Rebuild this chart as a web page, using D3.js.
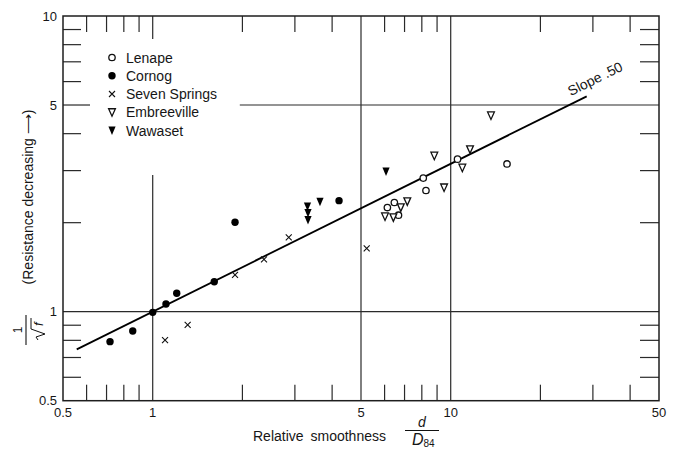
<!DOCTYPE html>
<html><head><meta charset="utf-8">
<script src="https://cdn.jsdelivr.net/npm/d3@7"></script>
<style>
html,body{margin:0;padding:0;background:#fff;}
svg{display:block;font-family:"Liberation Sans",Arial,Helvetica,sans-serif;}
</style></head>
<body>
<svg id="c" width="677" height="451"></svg>
<script>
// ---- data ----
const lenape = [[6.13,2.25],[6.47,2.34],[6.68,2.12],[8.09,2.83],[8.26,2.57],[10.54,3.28],[15.45,3.16]];
const cornog = [[0.719,0.792],[0.857,0.860],[1.0,0.995],[1.108,1.062],[1.204,1.154],[1.609,1.263],[1.889,2.006],[4.22,2.374]];
const sevenSprings = [[1.10,0.802],[1.31,0.902],[1.889,1.331],[2.363,1.504],[2.861,1.785],[5.225,1.638]];
const embreeville = [[6.02,2.10],[6.42,2.085],[6.80,2.254],[7.15,2.362],[8.81,3.37],[9.50,2.63],[10.94,3.07],[11.61,3.54],[13.65,4.61]];
const wawaset = [[3.307,2.27],[3.32,2.157],[3.32,2.042],[3.642,2.355],[6.067,2.98]];
const slopeLine = [[0.556,0.746],[28.6,5.35]];
const xTickLabels = [0.5,1,5,10,50];
const yTickLabels = [0.5,1,5,10];
const xMinor = [0.6,0.7,0.8,0.9,2,3,4,6,7,8,9,20,30,40];
const yMinor = [0.6,0.7,0.8,0.9,2,3,4,6,7,8,9];
const legendNames = ["Lenape","Cornog","Seven Springs","Embreeville","Wawaset"];

// ---- scales ----
const x = d3.scaleLog().domain([0.5,50]).range([63,659]);
const y = d3.scaleLog().domain([0.5,10]).range([400.7,16]);
const svg = d3.select("#c");
const ink = "#161616";

// gridlines
const g = svg.append("g").attr("stroke","#2a2a2a").attr("stroke-width",1.2);
g.append("line").attr("x1",x(1)).attr("x2",x(1)).attr("y1",y(2.9)).attr("y2",y(0.5));
[5,10].forEach(v=>g.append("line").attr("x1",x(v)).attr("x2",x(v)).attr("y1",y(10)).attr("y2",y(0.5)));
g.append("line").attr("x1",x(0.5)).attr("x2",x(50)).attr("y1",y(1)).attr("y2",y(1));
g.append("line").attr("x1",x(1.96)).attr("x2",x(50)).attr("y1",y(5)).attr("y2",y(5));
g.append("line").attr("x1",x(0.5)).attr("x2",x(0.5)+27).attr("y1",y(5)).attr("y2",y(5));
g.append("line").attr("x1",x(1)).attr("x2",x(1)).attr("y1",y(10)).attr("y2",y(10)+23);

// minor ticks (inward on all sides)
const t = svg.append("g").attr("stroke","#2a2a2a").attr("stroke-width",1.2);
xMinor.forEach(v=>{
  t.append("line").attr("x1",x(v)).attr("x2",x(v)).attr("y1",y(0.5)).attr("y2",y(0.5)-16);
  t.append("line").attr("x1",x(v)).attr("x2",x(v)).attr("y1",y(10)).attr("y2",y(10)+16);
});
yMinor.forEach(v=>{
  t.append("line").attr("x1",x(0.5)).attr("x2",x(0.5)+18).attr("y1",y(v)).attr("y2",y(v));
  t.append("line").attr("x1",x(50)).attr("x2",x(50)-19).attr("y1",y(v)).attr("y2",y(v));
});

// frame
svg.append("rect").attr("x",x(0.5)).attr("y",y(10)).attr("width",x(50)-x(0.5)).attr("height",y(0.5)-y(10))
  .attr("fill","none").attr("stroke","#1e1e1e").attr("stroke-width",1.5);

// tick labels
svg.append("g").selectAll("text").data(xTickLabels).join("text")
  .attr("x",d=>x(d)).attr("y",417).attr("text-anchor","middle").attr("font-size",13).attr("fill",ink).text(d=>d);
svg.append("g").selectAll("text").data(yTickLabels).join("text")
  .attr("x",57).attr("y",d=>y(d)+4.5).attr("text-anchor","end").attr("font-size",13).attr("fill",ink).text(d=>d);

// slope line
svg.append("path").attr("d",d3.line().x(d=>x(d[0])).y(d=>y(d[1]))(slopeLine))
  .attr("stroke","#000").attr("stroke-width",1.8).attr("fill","none");
const ang = Math.atan2(y(slopeLine[1][1])-y(slopeLine[0][1]), x(slopeLine[1][0])-x(slopeLine[0][0]))*180/Math.PI;
svg.append("text").attr("transform",`translate(${x(25.3)},${y(Math.sqrt(25.3))-8}) rotate(${ang})`)
  .attr("font-size",14).attr("fill",ink).text("Slope .50");

// marker drawers
function openCircle(sel,px,py){sel.append("circle").attr("cx",px).attr("cy",py).attr("r",3.2).attr("fill","#fff").attr("stroke","#111").attr("stroke-width",1.3);}
function filledCircle(sel,px,py){sel.append("circle").attr("cx",px).attr("cy",py).attr("r",3.7).attr("fill","#000");}
function cross(sel,px,py){sel.append("path").attr("d",`M${px-3},${py-3}L${px+3},${py+3}M${px+3},${py-3}L${px-3},${py+3}`).attr("stroke","#111").attr("stroke-width",1.1);}
function openTri(sel,px,py){sel.append("path").attr("d",`M${px-3.4},${py-3.5}L${px+3.4},${py-3.5}L${px},${py+4}Z`).attr("fill","#fff").attr("stroke","#111").attr("stroke-width",1.3);}
function filledTri(sel,px,py){sel.append("path").attr("d",`M${px-3.6},${py-4}L${px+3.6},${py-4}L${px},${py+4.5}Z`).attr("fill","#000");}
const drawers=[openCircle,filledCircle,cross,openTri,filledTri];
const series=[lenape,cornog,sevenSprings,embreeville,wawaset];

const pts = svg.append("g");
series.forEach((s,i)=>s.forEach(d=>drawers[i](pts,x(d[0]),y(d[1]))));

// legend
const lg = svg.append("g");
legendNames.forEach((n,i)=>{
  const ly = 57.5+i*18.25;
  drawers[i](lg,112,ly);
  lg.append("text").attr("x",126).attr("y",ly+5).attr("font-size",14).attr("fill",ink).text(n);
});

// x axis title
svg.append("text").attr("x",253).attr("y",441).attr("font-size",14).attr("fill",ink)
  .attr("word-spacing",3).text("Relative smoothness");
svg.append("text").attr("x",422).attr("y",427).attr("text-anchor","middle").attr("font-size",14)
  .attr("font-style","italic").attr("fill",ink).text("d");
svg.append("line").attr("x1",405).attr("x2",439).attr("y1",430.5).attr("y2",430.5).attr("stroke","#111").attr("stroke-width",1);
const dt = svg.append("text").attr("x",412).attr("y",445).attr("font-size",16).attr("fill",ink);
dt.append("tspan").attr("font-style","italic").text("D");
dt.append("tspan").attr("font-size",10).attr("dy",2).text("84");

// y axis title
svg.append("text").attr("transform","translate(33,197) rotate(-90)").attr("text-anchor","middle")
  .attr("font-size",14).attr("fill",ink).text("(Resistance decreasing \u27F6)");
const fr = svg.append("g").attr("transform","translate(26,330) rotate(-90)");
fr.append("text").attr("x",0).attr("y",-4.5).attr("text-anchor","middle").attr("font-size",12).attr("fill",ink).text("1");
fr.append("line").attr("x1",-15).attr("x2",15).attr("y1",0).attr("y2",0).attr("stroke","#111").attr("stroke-width",1.1);
fr.append("path").attr("d","M-10,12 L-7,10 L-4,19 L1,5 L12,5").attr("fill","none").attr("stroke","#111").attr("stroke-width",1);
fr.append("text").attr("x",4).attr("y",17).attr("font-size",13).attr("font-style","italic").attr("fill",ink).text("f");
</script>
</body></html>
